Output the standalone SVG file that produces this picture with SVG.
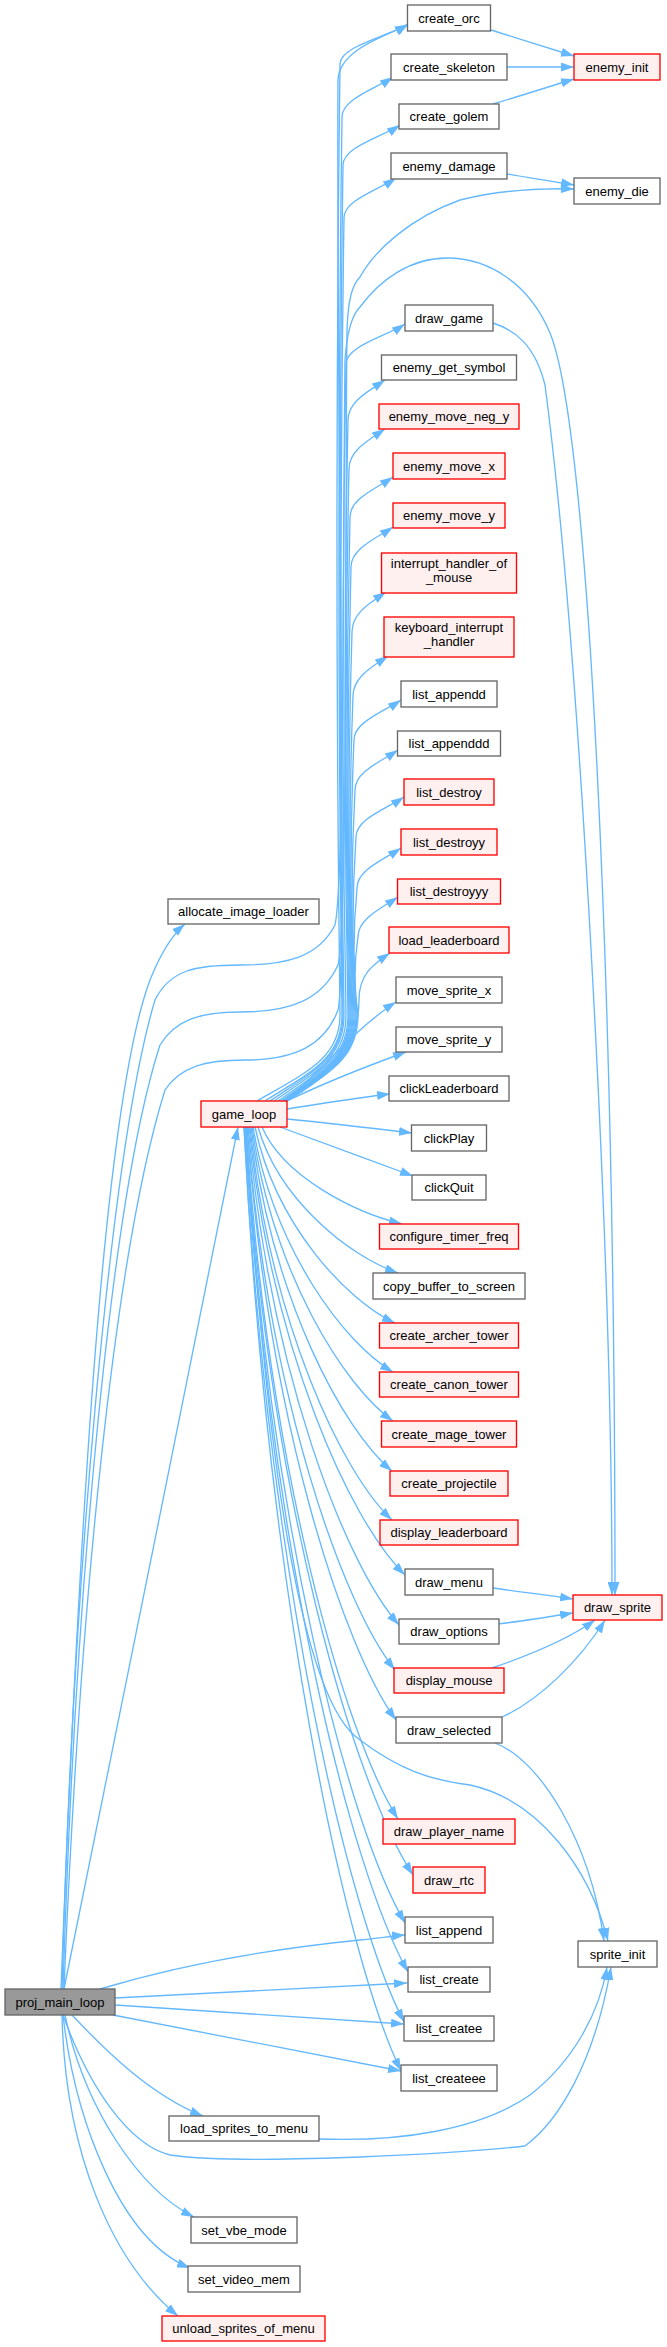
<svg xmlns="http://www.w3.org/2000/svg" width="667" height="2347" viewBox="0 0 667 2347">
<style>
.n rect{fill:#ffffff;stroke:#666666;stroke-width:1.33}
.r rect{fill:#fff0f0;stroke:#ff0000;stroke-width:1.33}
.root rect{fill:#999999;stroke:#666666;stroke-width:1.33}
text{font-family:"Liberation Sans",Arial,sans-serif;font-size:13px;text-anchor:middle;fill:#000000}
#edges path{fill:none;stroke:#63b8ff;stroke-width:1.33;marker-end:url(#ah)}
</style>
<defs>
<marker id="ah" markerUnits="userSpaceOnUse" markerWidth="13" markerHeight="9" refX="13" refY="4.5" orient="auto">
<path d="M0,0 L13,4.5 L0,9 z" fill="#63b8ff"/>
</marker>
</defs>
<rect x="0" y="0" width="667" height="2347" fill="#ffffff"/>
<g id="edges">
<!-- proj_main_loop edges -->
<path d="M61,1989 C80,1500 105,1100 150,980 C160,955 172,935 185,924"/>
<path d="M64,1989 C110,1770 190,1360 238,1127"/>
<path d="M62,1989 C72,1600 110,1150 155,1000 C170,970 195,965 240,965 C285,965 318,958 335,925 C345,880 343,500 345,360 C347,330 352,315 360,307 C380,280 410,258 447,258 C490,258 530,285 550,333 C590,430 615,1000 615,1595"/>
<path d="M63,1989 C75,1600 110,1200 160,1045 C175,1020 200,1012 240,1012 C290,1012 322,1000 338,965 C348,930 345,500 347,330 C348,300 352,285 360,277 C375,250 410,218 460,200 C500,190 540,188 574,189"/>
<path d="M64,1989 C80,1600 115,1250 165,1090 C180,1067 205,1060 245,1060 C295,1060 325,1045 338,1010 C348,975 336,400 338,80 C339,50 385,36 408,25"/>
<path d="M100,1989 C170,1968 260,1950 360,1940 C380,1938 392,1936 405,1935"/>
<path d="M115,1998 C200,1993 300,1988 407,1983"/>
<path d="M115,2005 C200,2011 300,2017 404,2024"/>
<path d="M113,2015 C200,2032 300,2051 401,2071"/>
<path d="M72,2015 C105,2050 150,2095 203,2116"/>
<path d="M65,2015 C85,2110 140,2190 194,2217"/>
<path d="M63,2015 C75,2120 120,2240 190,2268"/>
<path d="M62,2015 C65,2150 110,2260 178,2316"/>
<path d="M63,2015 C90,2090 130,2145 170,2155 C220,2162 300,2159 360,2157 C430,2154 490,2150 525,2146 C560,2120 595,2060 611,1967"/>
<!-- load_sprites_to_menu -->
<path d="M319,2139 C400,2142 480,2130 530,2095 C575,2060 600,2010 607,1967"/>
<!-- game_loop upward -->
<path d="M257,1101 C307,1072 340,1058 340,1015 C336,701 336,378 340,64 C340,46 390,36 408,24"/>
<path d="M265,1101 C311,1072 342,1058 342,1015 C338,719 338,413 342,117 C342,99 375,89 393,77"/>
<path d="M270,1101 C313,1072 343,1058 343,1015 C339,735 339,445 343,165 C343,147 382,137 400,125"/>
<path d="M274,1101 C316,1072 344,1058 344,1015 C340,752 340,481 344,218 C344,200 378,190 396,178"/>
<path d="M278,1101 C319,1072 346,1058 346,1015 C342,800 342,579 346,364 C346,346 387,336 405,324"/>
<path d="M281,1101 C321,1072 348,1058 348,1015 C344,819 344,616 348,420 C348,402 367,392 385,380"/>
<path d="M283,1101 C323,1072 349,1058 349,1015 C345,835 345,649 349,469 C349,451 367,441 385,429"/>
<path d="M284,1101 C324,1072 350,1058 350,1015 C346,851 346,681 350,517 C350,499 375,489 393,477"/>
<path d="M284,1101 C324,1072 351,1058 351,1015 C347,867 347,715 351,567 C351,549 375,539 393,527"/>
<path d="M285,1101 C325,1072 352,1058 352,1015 C348,889 348,758 352,632 C352,614 368,604 386,592"/>
<path d="M285,1101 C326,1072 353,1058 353,1015 C349,910 349,801 353,696 C353,678 370,668 388,656"/>
<path d="M286,1101 C327,1072 354,1058 354,1015 C350,924 350,831 354,740 C354,722 383,712 401,700"/>
<path d="M286,1101 C327,1072 355,1058 355,1015 C351,941 351,864 355,790 C355,772 380,762 398,750"/>
<path d="M286,1101 C328,1072 356,1058 356,1015 C352,956 352,896 356,837 C356,819 386,809 404,797"/>
<path d="M287,1101 C329,1072 357,1058 357,1015 C353,973 353,930 357,888 C357,870 383,860 401,848"/>
<path d="M287,1101 C330,1072 358,1058 358,1015 C354,989 354,963 358,937 C358,919 380,909 398,897"/>
<path d="M287,1101 C330,1075 359,1050 359,1000 C359,975 372,965 390,953"/>
<path d="M287,1101 C325,1065 360,1025 396,1002"/>
<path d="M287,1101 C320,1085 370,1065 406,1052"/>
<path d="M287,1109 C320,1104 355,1098 390,1094"/>
<path d="M287,1119 C330,1123 370,1128 412,1133"/>
<path d="M280,1127 C320,1142 370,1160 413,1176"/>
<!-- game_loop downward -->
<path d="M262,1127 C283,1176 353,1212 402,1224"/>
<path d="M258,1127 C279,1200 349,1256 398,1273"/>
<path d="M255,1127 C276,1225 346,1300 395,1323"/>
<path d="M253,1127 C274,1250 344,1343 393,1372"/>
<path d="M252,1127 C273,1274 344,1386 393,1421"/>
<path d="M251,1127 C272,1299 343,1430 392,1471"/>
<path d="M250,1127 C271,1324 342,1473 392,1520"/>
<path d="M249,1127 C272,1351 350,1521 405,1575"/>
<path d="M248,1127 C271,1376 346,1565 399,1625"/>
<path d="M247,1127 C269,1399 343,1605 395,1670"/>
<path d="M247,1127 C269,1424 344,1649 396,1720"/>
<path d="M246,1127 C265,1450 300,1700 360,1740 C400,1770 430,1780 470,1785 C540,1800 590,1870 608,1941"/>
<path d="M246,1127 C269,1473 345,1736 398,1819"/>
<path d="M245,1127 C270,1501 354,1785 413,1875"/>
<path d="M245,1127 C269,1525 349,1828 405,1923"/>
<path d="M245,1127 C269,1550 351,1871 408,1972"/>
<path d="M244,1127 C268,1575 348,1915 404,2022"/>
<path d="M244,1127 C268,1599 346,1958 401,2071"/>
<!-- middle to right -->
<path d="M491,30 C520,39 548,48 574,56"/>
<path d="M507,67 C530,67 552,67 574,67"/>
<path d="M493,104 C520,96 548,87 574,79"/>
<path d="M507,174 C530,178 552,181 574,185"/>
<path d="M493,323 C515,330 535,345 545,385 C580,650 612,1250 612,1595"/>
<path d="M493,1588 C520,1592 547,1595 573,1599"/>
<path d="M498,1624 C523,1621 548,1617 573,1613"/>
<path d="M492,1668 C530,1655 570,1638 595,1620"/>
<path d="M502,1717 C540,1700 580,1660 605,1620"/>
<path d="M495,1743 C540,1760 590,1840 604,1941"/>
</g>
<g id="proj_main_loop" class="root"><rect x="5" y="1989" width="110" height="26"/><text x="60" y="2006.5">proj_main_loop</text></g>
<g id="allocate_image_loader" class="n"><rect x="168" y="899" width="151" height="25"/><text x="243.5" y="916">allocate_image_loader</text></g>
<g id="game_loop" class="r"><rect x="201" y="1101" width="86" height="26"/><text x="244" y="1118.5">game_loop</text></g>
<g id="load_sprites_to_menu" class="n"><rect x="169" y="2116" width="150" height="25"/><text x="244" y="2133">load_sprites_to_menu</text></g>
<g id="set_vbe_mode" class="n"><rect x="191" y="2217" width="106" height="26"/><text x="244" y="2234.5">set_vbe_mode</text></g>
<g id="set_video_mem" class="n"><rect x="188" y="2266" width="112" height="26"/><text x="244" y="2283.5">set_video_mem</text></g>
<g id="unload_sprites_of_menu" class="r"><rect x="162" y="2316" width="163" height="25"/><text x="243.5" y="2333">unload_sprites_of_menu</text></g>
<g id="create_orc" class="n"><rect x="407.5" y="5" width="83" height="26"/><text x="449" y="22.5">create_orc</text></g>
<g id="create_skeleton" class="n"><rect x="391" y="54" width="116" height="26"/><text x="449" y="71.5">create_skeleton</text></g>
<g id="create_golem" class="n"><rect x="399" y="104" width="100" height="25"/><text x="449" y="121">create_golem</text></g>
<g id="enemy_damage" class="n"><rect x="391" y="153" width="116" height="26"/><text x="449" y="170.5">enemy_damage</text></g>
<g id="draw_game" class="n"><rect x="405" y="305" width="88" height="26"/><text x="449" y="322.5">draw_game</text></g>
<g id="enemy_get_symbol" class="n"><rect x="381.5" y="355" width="135" height="25"/><text x="449" y="372">enemy_get_symbol</text></g>
<g id="enemy_move_neg_y" class="r"><rect x="379" y="404" width="140" height="25"/><text x="449" y="421">enemy_move_neg_y</text></g>
<g id="enemy_move_x" class="r"><rect x="393" y="453" width="112" height="26"/><text x="449" y="470.5">enemy_move_x</text></g>
<g id="enemy_move_y" class="r"><rect x="393" y="503" width="112" height="25"/><text x="449" y="520">enemy_move_y</text></g>
<g id="interrupt_handler_of_mouse" class="r"><rect x="381.5" y="553" width="135" height="40"/><text x="449" y="568">interrupt_handler_of</text><text x="449" y="582">_mouse</text></g>
<g id="keyboard_interrupt_handler" class="r"><rect x="384" y="617" width="130" height="40"/><text x="449" y="632">keyboard_interrupt</text><text x="449" y="646">_handler</text></g>
<g id="list_appendd" class="n"><rect x="401" y="681" width="96" height="26"/><text x="449" y="698.5">list_appendd</text></g>
<g id="list_appenddd" class="n"><rect x="397.5" y="731" width="103" height="25"/><text x="449" y="748">list_appenddd</text></g>
<g id="list_destroy" class="r"><rect x="404" y="779" width="90" height="26"/><text x="449" y="796.5">list_destroy</text></g>
<g id="list_destroyy" class="r"><rect x="401" y="829" width="96" height="26"/><text x="449" y="846.5">list_destroyy</text></g>
<g id="list_destroyyy" class="r"><rect x="397.5" y="879" width="103" height="25"/><text x="449" y="896">list_destroyyy</text></g>
<g id="load_leaderboard" class="r"><rect x="389" y="927" width="120" height="26"/><text x="449" y="944.5">load_leaderboard</text></g>
<g id="move_sprite_x" class="n"><rect x="396" y="977" width="106" height="26"/><text x="449" y="994.5">move_sprite_x</text></g>
<g id="move_sprite_y" class="n"><rect x="396" y="1027" width="106" height="25"/><text x="449" y="1044">move_sprite_y</text></g>
<g id="clickLeaderboard" class="n"><rect x="389" y="1076" width="120" height="25"/><text x="449" y="1093">clickLeaderboard</text></g>
<g id="clickPlay" class="n"><rect x="411.5" y="1125" width="75" height="26"/><text x="449" y="1142.5">clickPlay</text></g>
<g id="clickQuit" class="n"><rect x="412" y="1175" width="74" height="25"/><text x="449" y="1192">clickQuit</text></g>
<g id="configure_timer_freq" class="r"><rect x="379.5" y="1224" width="139" height="25"/><text x="449" y="1241">configure_timer_freq</text></g>
<g id="copy_buffer_to_screen" class="n"><rect x="373" y="1273" width="152" height="26"/><text x="449" y="1290.5">copy_buffer_to_screen</text></g>
<g id="create_archer_tower" class="r"><rect x="379.5" y="1323" width="139" height="25"/><text x="449" y="1340">create_archer_tower</text></g>
<g id="create_canon_tower" class="r"><rect x="379.5" y="1372" width="139" height="25"/><text x="449" y="1389">create_canon_tower</text></g>
<g id="create_mage_tower" class="r"><rect x="381.5" y="1421" width="135" height="26"/><text x="449" y="1438.5">create_mage_tower</text></g>
<g id="create_projectile" class="r"><rect x="390" y="1471" width="118" height="25"/><text x="449" y="1488">create_projectile</text></g>
<g id="display_leaderboard" class="r"><rect x="380" y="1520" width="138" height="25"/><text x="449" y="1537">display_leaderboard</text></g>
<g id="draw_menu" class="n"><rect x="405" y="1569" width="88" height="26"/><text x="449" y="1586.5">draw_menu</text></g>
<g id="draw_options" class="n"><rect x="399" y="1619" width="100" height="25"/><text x="449" y="1636">draw_options</text></g>
<g id="display_mouse" class="r"><rect x="394" y="1668" width="110" height="25"/><text x="449" y="1685">display_mouse</text></g>
<g id="draw_selected" class="n"><rect x="396" y="1717" width="106" height="26"/><text x="449" y="1734.5">draw_selected</text></g>
<g id="draw_player_name" class="r"><rect x="383" y="1819" width="132" height="25"/><text x="449" y="1836">draw_player_name</text></g>
<g id="draw_rtc" class="r"><rect x="413" y="1867" width="72" height="26"/><text x="449" y="1884.5">draw_rtc</text></g>
<g id="list_append" class="n"><rect x="405" y="1917" width="88" height="26"/><text x="449" y="1934.5">list_append</text></g>
<g id="list_create" class="n"><rect x="408" y="1967" width="82" height="25"/><text x="449" y="1984">list_create</text></g>
<g id="list_createe" class="n"><rect x="404" y="2016" width="90" height="25"/><text x="449" y="2033">list_createe</text></g>
<g id="list_createee" class="n"><rect x="401" y="2065" width="96" height="26"/><text x="449" y="2082.5">list_createee</text></g>
<g id="enemy_init" class="r"><rect x="574" y="54" width="86" height="26"/><text x="617" y="71.5">enemy_init</text></g>
<g id="enemy_die" class="n"><rect x="574" y="178" width="86" height="26"/><text x="617" y="195.5">enemy_die</text></g>
<g id="draw_sprite" class="r"><rect x="573" y="1595" width="89" height="25"/><text x="617.5" y="1612">draw_sprite</text></g>
<g id="sprite_init" class="n"><rect x="578" y="1941" width="79" height="26"/><text x="617.5" y="1958.5">sprite_init</text></g>
</svg>
